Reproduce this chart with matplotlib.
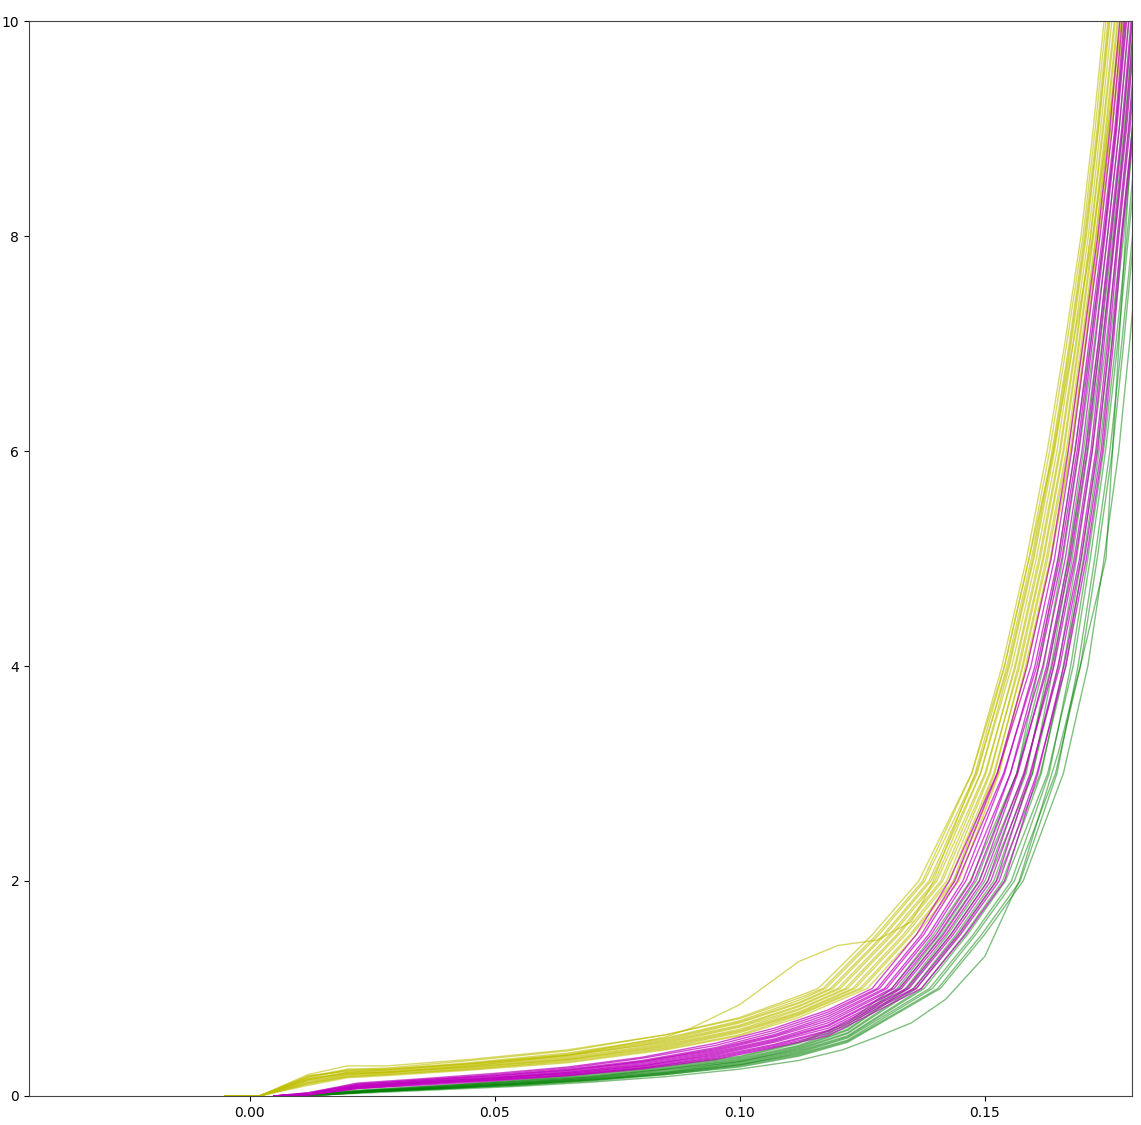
import matplotlib
matplotlib.use("Agg")
import matplotlib.pyplot as plt

# Each curve = a flat start (y at fixed x) followed by a steep rise (x at fixed y levels).
knee_levels = [1.0, 1.5, 2, 3, 4, 5, 6, 7, 8, 9, 10, 11.5]

# ---- yellow group ----
yellow_low_x = [-0.005, 0.002, 0.012, 0.020, 0.028, 0.045, 0.065, 0.085, 0.100, 0.112]
yellow_low = [
    [0, 0, 0.18, 0.25, 0.26, 0.33, 0.42, 0.57, 0.73, 0.93],
    [0, 0, 0.20, 0.28, 0.28, 0.34, 0.43, 0.57, 0.72, 0.91],
    [0, 0, 0.17, 0.24, 0.25, 0.31, 0.40, 0.54, 0.70, 0.89],
    [0, 0, 0.19, 0.23, 0.24, 0.30, 0.39, 0.53, 0.69, 0.87],
    [0, 0, 0.16, 0.22, 0.24, 0.30, 0.38, 0.52, 0.68, 0.86],
    [0, 0, 0.15, 0.22, 0.23, 0.29, 0.37, 0.51, 0.66, 0.84],
    [0, 0, 0.18, 0.24, 0.25, 0.30, 0.38, 0.50, 0.65, 0.83],
    [0, 0, 0.14, 0.20, 0.22, 0.28, 0.36, 0.49, 0.64, 0.81],
    [0, 0, 0.13, 0.20, 0.22, 0.27, 0.35, 0.48, 0.62, 0.80],
    [0, 0, 0.15, 0.21, 0.22, 0.27, 0.34, 0.47, 0.61, 0.78],
    [0, 0, 0.12, 0.19, 0.21, 0.26, 0.34, 0.46, 0.60, 0.77],
    [0, 0, 0.11, 0.18, 0.20, 0.25, 0.33, 0.45, 0.59, 0.76],
    [0, 0, 0.12, 0.18, 0.20, 0.25, 0.32, 0.44, 0.57, 0.75],
    [0, 0, 0.10, 0.17, 0.19, 0.24, 0.31, 0.43, 0.56, 0.73],
]
yellow_knee_x = [
    [0.1160, 0.1270, 0.1365, 0.1473, 0.1540, 0.1590, 0.1632, 0.1667, 0.1700, 0.1725, 0.1747, 0.1779],
    [0.1170, 0.1279, 0.1373, 0.1473, 0.1535, 0.1585, 0.1627, 0.1663, 0.1696, 0.1721, 0.1743, 0.1775],
    [0.1175, 0.1284, 0.1377, 0.1482, 0.1548, 0.1598, 0.1639, 0.1674, 0.1705, 0.1731, 0.1753, 0.1785],
    [0.1185, 0.1293, 0.1386, 0.1484, 0.1545, 0.1595, 0.1637, 0.1672, 0.1703, 0.1729, 0.1751, 0.1783],
    [0.1190, 0.1297, 0.1390, 0.1491, 0.1555, 0.1605, 0.1647, 0.1680, 0.1711, 0.1736, 0.1759, 0.1791],
    [0.1200, 0.1306, 0.1398, 0.1491, 0.1550, 0.1600, 0.1642, 0.1676, 0.1707, 0.1732, 0.1755, 0.1787],
    [0.1205, 0.1311, 0.1402, 0.1500, 0.1563, 0.1613, 0.1654, 0.1687, 0.1716, 0.1742, 0.1766, 0.1797],
    [0.1215, 0.1320, 0.1410, 0.1502, 0.1561, 0.1610, 0.1652, 0.1685, 0.1715, 0.1740, 0.1764, 0.1795],
    [0.1220, 0.1324, 0.1414, 0.1509, 0.1571, 0.1620, 0.1661, 0.1693, 0.1722, 0.1748, 0.1772, 0.1803],
    [0.1230, 0.1333, 0.1422, 0.1511, 0.1568, 0.1618, 0.1659, 0.1691, 0.1720, 0.1746, 0.1770, 0.1801],
    [0.1235, 0.1338, 0.1427, 0.1518, 0.1578, 0.1628, 0.1669, 0.1700, 0.1727, 0.1753, 0.1778, 0.1809],
    [0.1245, 0.1347, 0.1435, 0.1520, 0.1576, 0.1625, 0.1666, 0.1697, 0.1726, 0.1751, 0.1776, 0.1807],
    [0.1250, 0.1351, 0.1439, 0.1527, 0.1586, 0.1635, 0.1676, 0.1706, 0.1733, 0.1759, 0.1784, 0.1815],
    [0.1260, 0.1360, 0.1447, 0.1529, 0.1583, 0.1633, 0.1674, 0.1704, 0.1731, 0.1757, 0.1782, 0.1813],
]
yellow_odd_x = [-0.005, 0.002, 0.012, 0.020, 0.028, 0.045, 0.065, 0.085, 0.090, 0.100, 0.112,
                0.120, 0.128, 0.135, 0.139, 0.148, 0.154, 0.159, 0.164, 0.168, 0.172, 0.176, 0.180]
yellow_odd_y = [0, 0, 0.16, 0.21, 0.22, 0.28, 0.38, 0.55, 0.63, 0.85, 1.25,
                1.40, 1.45, 1.62, 1.95, 3.0, 4.0, 5.0, 6.0, 7.0, 8.0, 9.3, 10.8]

# ---- magenta group ----
magenta_low_x = [0.005, 0.012, 0.022, 0.035, 0.050, 0.065, 0.080, 0.095, 0.107, 0.118]
magenta_low = [
    [0, 0.03, 0.12, 0.16, 0.21, 0.27, 0.36, 0.49, 0.63, 0.80],
    [0, 0.03, 0.11, 0.15, 0.20, 0.26, 0.35, 0.47, 0.61, 0.78],
    [0, 0.02, 0.10, 0.14, 0.19, 0.25, 0.33, 0.45, 0.59, 0.76],
    [0, 0.02, 0.11, 0.15, 0.19, 0.24, 0.32, 0.44, 0.57, 0.74],
    [0, 0.02, 0.10, 0.14, 0.18, 0.24, 0.32, 0.43, 0.56, 0.72],
    [0, 0.02, 0.09, 0.13, 0.17, 0.23, 0.31, 0.42, 0.55, 0.70],
    [0, 0.02, 0.09, 0.13, 0.17, 0.22, 0.30, 0.41, 0.53, 0.68],
    [0, 0.01, 0.08, 0.12, 0.16, 0.22, 0.29, 0.40, 0.52, 0.66],
    [0, 0.02, 0.09, 0.13, 0.17, 0.21, 0.28, 0.39, 0.51, 0.65],
    [0, 0.01, 0.08, 0.12, 0.16, 0.21, 0.28, 0.38, 0.50, 0.63],
    [0, 0.01, 0.07, 0.11, 0.15, 0.20, 0.27, 0.37, 0.48, 0.61],
    [0, 0.02, 0.08, 0.12, 0.15, 0.20, 0.26, 0.36, 0.47, 0.60],
    [0, 0.01, 0.07, 0.11, 0.15, 0.19, 0.26, 0.35, 0.46, 0.58],
    [0, 0.01, 0.07, 0.10, 0.14, 0.19, 0.25, 0.34, 0.45, 0.56],
]
magenta_knee_x = [
    [0.1270, 0.1360, 0.1427, 0.1525, 0.1594, 0.1642, 0.1677, 0.1706, 0.1735, 0.1760, 0.1780, 0.1810],
    [0.1280, 0.1370, 0.1438, 0.1525, 0.1586, 0.1635, 0.1670, 0.1700, 0.1730, 0.1755, 0.1775, 0.1805],
    [0.1285, 0.1375, 0.1444, 0.1538, 0.1606, 0.1653, 0.1688, 0.1716, 0.1743, 0.1767, 0.1786, 0.1816],
    [0.1295, 0.1385, 0.1455, 0.1540, 0.1602, 0.1649, 0.1684, 0.1712, 0.1740, 0.1765, 0.1784, 0.1814],
    [0.1300, 0.1390, 0.1461, 0.1552, 0.1618, 0.1664, 0.1698, 0.1725, 0.1750, 0.1774, 0.1793, 0.1823],
    [0.1310, 0.1400, 0.1472, 0.1552, 0.1610, 0.1657, 0.1691, 0.1719, 0.1745, 0.1769, 0.1789, 0.1819],
    [0.1315, 0.1405, 0.1478, 0.1565, 0.1629, 0.1675, 0.1709, 0.1734, 0.1758, 0.1781, 0.1800, 0.1830],
    [0.1325, 0.1415, 0.1489, 0.1567, 0.1626, 0.1671, 0.1705, 0.1731, 0.1755, 0.1779, 0.1798, 0.1828],
    [0.1330, 0.1420, 0.1495, 0.1579, 0.1641, 0.1685, 0.1719, 0.1743, 0.1765, 0.1789, 0.1807, 0.1837],
    [0.1340, 0.1430, 0.1506, 0.1581, 0.1637, 0.1682, 0.1716, 0.1740, 0.1763, 0.1786, 0.1804, 0.1834],
    [0.1345, 0.1435, 0.1512, 0.1592, 0.1653, 0.1696, 0.1730, 0.1753, 0.1773, 0.1796, 0.1813, 0.1843],
    [0.1355, 0.1445, 0.1523, 0.1594, 0.1649, 0.1693, 0.1726, 0.1750, 0.1770, 0.1793, 0.1811, 0.1841],
    [0.1360, 0.1450, 0.1529, 0.1606, 0.1665, 0.1707, 0.1740, 0.1762, 0.1780, 0.1803, 0.1820, 0.1850],
    [0.1370, 0.1460, 0.1540, 0.1608, 0.1661, 0.1703, 0.1737, 0.1759, 0.1778, 0.1801, 0.1818, 0.1848],
]

# ---- green group ----
green_low_x = [0.008, 0.015, 0.025, 0.040, 0.055, 0.070, 0.085, 0.100, 0.112, 0.122]
green_low = [
    [0, 0.03, 0.06, 0.10, 0.15, 0.21, 0.28, 0.37, 0.50, 0.68],
    [0, 0.03, 0.06, 0.10, 0.14, 0.20, 0.27, 0.36, 0.49, 0.66],
    [0, 0.02, 0.05, 0.09, 0.14, 0.19, 0.26, 0.35, 0.47, 0.64],
    [0, 0.02, 0.05, 0.09, 0.13, 0.18, 0.25, 0.34, 0.46, 0.62],
    [0, 0.02, 0.05, 0.09, 0.13, 0.18, 0.25, 0.33, 0.45, 0.61],
    [0, 0.02, 0.05, 0.08, 0.12, 0.17, 0.24, 0.32, 0.44, 0.59],
    [0, 0.02, 0.05, 0.08, 0.12, 0.17, 0.23, 0.32, 0.43, 0.58],
    [0, 0.02, 0.04, 0.08, 0.12, 0.16, 0.22, 0.31, 0.42, 0.56],
    [0, 0.01, 0.04, 0.08, 0.11, 0.16, 0.22, 0.30, 0.41, 0.55],
    [0, 0.02, 0.04, 0.07, 0.11, 0.15, 0.21, 0.29, 0.40, 0.54],
    [0, 0.01, 0.04, 0.07, 0.11, 0.15, 0.21, 0.29, 0.39, 0.52],
    [0, 0.01, 0.04, 0.07, 0.10, 0.15, 0.20, 0.28, 0.38, 0.51],
    [0, 0.01, 0.04, 0.07, 0.10, 0.14, 0.20, 0.27, 0.37, 0.50],
]
green_knee_x = [
    [0.1310, 0.1395, 0.1470, 0.1565, 0.1620, 0.1659, 0.1692, 0.1723, 0.1750, 0.1774, 0.1794, 0.1823],
    [0.1321, 0.1407, 0.1482, 0.1565, 0.1610, 0.1650, 0.1683, 0.1715, 0.1743, 0.1767, 0.1788, 0.1817],
    [0.1327, 0.1412, 0.1488, 0.1581, 0.1635, 0.1673, 0.1706, 0.1735, 0.1761, 0.1784, 0.1804, 0.1833],
    [0.1338, 0.1424, 0.1500, 0.1584, 0.1630, 0.1669, 0.1701, 0.1731, 0.1757, 0.1781, 0.1801, 0.1830],
    [0.1343, 0.1430, 0.1506, 0.1597, 0.1650, 0.1687, 0.1719, 0.1747, 0.1772, 0.1794, 0.1814, 0.1843],
    [0.1354, 0.1441, 0.1518, 0.1597, 0.1640, 0.1678, 0.1710, 0.1739, 0.1765, 0.1787, 0.1807, 0.1836],
    [0.1360, 0.1447, 0.1524, 0.1613, 0.1665, 0.1701, 0.1733, 0.1759, 0.1783, 0.1804, 0.1823, 0.1852],
    [0.1371, 0.1458, 0.1536, 0.1615, 0.1660, 0.1697, 0.1728, 0.1755, 0.1779, 0.1801, 0.1820, 0.1849],
    [0.1376, 0.1464, 0.1542, 0.1628, 0.1680, 0.1715, 0.1746, 0.1771, 0.1793, 0.1815, 0.1833, 0.1862],
    [0.1387, 0.1476, 0.1554, 0.1631, 0.1675, 0.1710, 0.1742, 0.1767, 0.1790, 0.1811, 0.1830, 0.1859],
    [0.1393, 0.1481, 0.1560, 0.1644, 0.1695, 0.1729, 0.1760, 0.1783, 0.1804, 0.1825, 0.1842, 0.1871],
    [0.1404, 0.1493, 0.1572, 0.1647, 0.1690, 0.1724, 0.1755, 0.1779, 0.1801, 0.1821, 0.1839, 0.1868],
    [0.1409, 0.1499, 0.1578, 0.1660, 0.1710, 0.1743, 0.1773, 0.1795, 0.1815, 0.1835, 0.1852, 0.1881],
]
green_odd_x = [0.008, 0.015, 0.025, 0.040, 0.055, 0.070, 0.085, 0.100, 0.112, 0.121,
               0.128, 0.135, 0.142, 0.150, 0.157, 0.165, 0.170, 0.1747, 0.178, 0.182]
green_odd_y = [0, 0.01, 0.03, 0.06, 0.09, 0.13, 0.18, 0.25, 0.33, 0.43,
               0.55, 0.68, 0.90, 1.30, 2.0, 3.2, 4.1, 5.0, 7.5, 10.5]

fig, ax = plt.subplots(figsize=(11.41, 11.25), dpi=100)
fig.subplots_adjust(left=0.0254, right=0.9921, bottom=0.0258, top=0.9813)

for low, knee in zip(yellow_low, yellow_knee_x):
    ax.plot(yellow_low_x + knee, low + knee_levels, color='y', alpha=0.6, linewidth=1)
ax.plot(yellow_odd_x, yellow_odd_y, color='y', alpha=0.6, linewidth=1)

for low, knee in zip(green_low, green_knee_x):
    ax.plot(green_low_x + knee, low + knee_levels, color='g', alpha=0.5, linewidth=1)
ax.plot(green_odd_x, green_odd_y, color='g', alpha=0.5, linewidth=1)

for low, knee in zip(magenta_low, magenta_knee_x):
    ax.plot(magenta_low_x + knee, low + knee_levels, color='m', alpha=0.7, linewidth=1)

ax.set_xlim(-0.045, 0.18)
ax.set_ylim(0, 10)
ax.set_xticks([0.0, 0.05, 0.10, 0.15])
ax.set_yticks([0, 2, 4, 6, 8, 10])
for s in ax.spines.values():
    s.set_color('#444444')

plt.savefig('out.png', dpi=100)
plt.close()
